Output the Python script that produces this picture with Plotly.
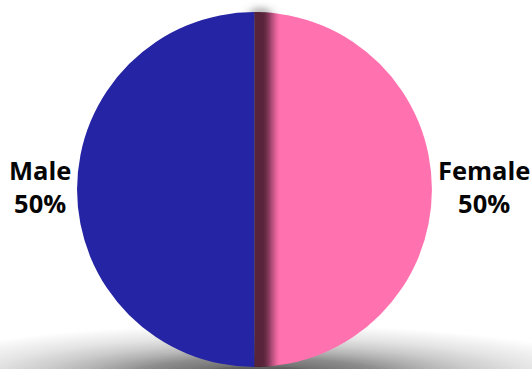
import math
import plotly.graph_objects as go

# Gender split
labels = ["Female", "Male"]
values = [50, 50]
colors = ["#FF72AF", "#2424A4"]

W, H = 532, 369
dom_x = [0.1447, 0.8120]
dom_y = [0.00542, 0.96748]

# Pie geometry in pixels (plotly: r = min(domain w, h) / 2)
cx = W * (dom_x[0] + dom_x[1]) / 2
cy = H * (1 - (dom_y[0] + dom_y[1]) / 2)
r = min(W * (dom_x[1] - dom_x[0]), H * (dom_y[1] - dom_y[0])) / 2


def px(x):
    return x / W


def py(y):
    return 1 - y / H


def ellipse(xc, yc, rx, ry, opacity, layer):
    return dict(type="circle", xref="paper", yref="paper",
                x0=px(xc - rx), x1=px(xc + rx), y0=py(yc + ry), y1=py(yc - ry),
                fillcolor="black", opacity=opacity, line=dict(width=0), layer=layer)


def stacked(levels, profile):
    """Opacities for nested shapes so the composite alpha follows profile."""
    trans = [1 - profile(s) for s in levels] + [1.0]
    return [max(0.0, 1 - trans[i] / trans[i + 1]) for i in range(len(levels))]


shapes = []

# soft ground shadow under the pie
K = 48
levels = [(k - 0.5) / K for k in range(1, K + 1)]
ops = stacked(levels, lambda s: 0.62 * math.exp(-s / 0.52) * (1 - s ** 3))
for k, a in zip(range(1, K + 1), ops):
    s = k / K
    shapes.append(ellipse(cx + 4, cy + r + 11, 40 + 330 * s, 8 + 46 * s, a, "below"))

# faint haze above the divider
K2 = 12
levels2 = [(k - 0.5) / K2 for k in range(1, K2 + 1)]
ops2 = stacked(levels2, lambda s: 0.2 * math.exp(-(s / 0.45) ** 2))
for k, a in zip(range(1, K2 + 1), ops2):
    s = k / K2
    shapes.append(ellipse(cx + 6, cy - r + 2, 4 + 20 * s, 3 + 12 * s, a, "below"))


# shadow cast by the male slice onto the female slice
def alpha(d):
    if d <= 7:
        return 0.63
    if d >= 27:
        return 0.0
    return 0.63 * 0.5 * (1 + math.cos(math.pi * (d - 7) / 20))


steps = list(range(1, 28))
ops3 = stacked([k - 0.5 for k in steps], alpha)
for k, a in zip(steps, ops3):
    if a <= 0:
        continue
    xs = [cx + j * 0.5 for j in range(0, 2 * k + 1)]
    top = [(x, cy - math.sqrt(max(r * r - (x - cx) ** 2, 0))) for x in xs]
    bot = [(x, cy + math.sqrt(max(r * r - (x - cx) ** 2, 0))) for x in reversed(xs)]
    pts = top + bot
    path = "M " + " L ".join(f"{px(x):.6f},{py(y):.6f}" for x, y in pts) + " Z"
    shapes.append(dict(type="path", xref="paper", yref="paper", path=path,
                       fillcolor="black", opacity=a, line=dict(width=0), layer="above"))

# slice labels placed outside at each slice's mid-angle (clockwise from 12 o'clock)
total = sum(values)
annotations = []
cum = 0.0
gap = 5
for lab, v in zip(labels, values):
    mid = (cum + v / 2) / total
    cum += v
    theta = math.radians(90 - 360 * mid)
    c, s_ = math.cos(theta), math.sin(theta)
    lx = cx + (r + gap) * c
    ly = cy - (r + gap) * s_
    xa = "left" if c > 0.1 else ("right" if c < -0.1 else "center")
    annotations.append(dict(
        x=px(lx), y=py(ly), xref="paper", yref="paper", yshift=3,
        text=f"{lab}<br>{v / total * 100:.0f}%",
        showarrow=False, xanchor=xa, yanchor="middle", align="center", borderpad=0,
        font=dict(family="Open Sans", size=25.5, color="#050505", weight=700),
    ))

fig = go.Figure(go.Pie(
    labels=labels,
    values=values,
    marker=dict(colors=colors, line=dict(width=0)),
    textinfo="none",
    sort=False,
    direction="clockwise",
    rotation=0,
    automargin=False,
    domain=dict(x=dom_x, y=dom_y),
    hoverinfo="label+percent",
))

fig.update_layout(
    width=W, height=H,
    margin=dict(l=0, r=0, t=0, b=0, autoexpand=False),
    paper_bgcolor="white",
    showlegend=False,
    shapes=shapes,
    annotations=annotations,
)

fig.write_html("out.html")
